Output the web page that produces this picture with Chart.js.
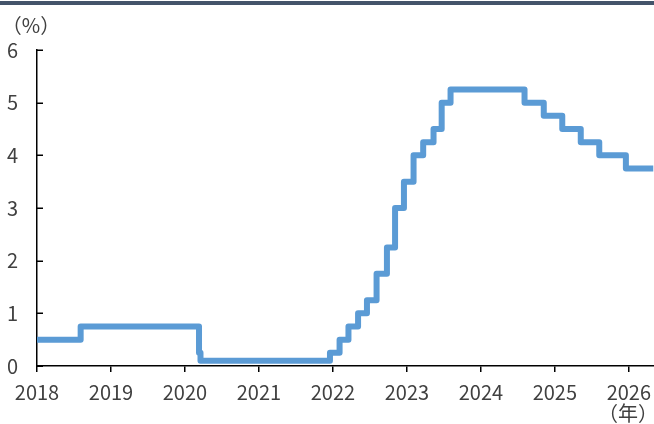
<!DOCTYPE html>
<html>
<head>
<meta charset="utf-8">
<script src="https://cdn.jsdelivr.net/npm/chart.js@4.4.1/dist/chart.umd.min.js"></script>
<style>
  html, body { margin: 0; padding: 0; background: #fff; }
  #wrap { position: relative; width: 654px; height: 424px; }
</style>
</head>
<body>
<div id="wrap"><canvas id="c"></canvas></div>
<script>
// Policy rate change dates (decimal years) and levels (%)
const changeDates = [2018.00, 2018.59, 2020.19, 2020.21, 2021.96, 2022.09, 2022.21, 2022.34, 2022.46,
  2022.59, 2022.73, 2022.84, 2022.96, 2023.09, 2023.22, 2023.36, 2023.47, 2023.59,
  2024.59, 2024.85, 2025.10, 2025.35, 2025.60, 2025.96, 2026.33];
const rates = [0.5, 0.75, 0.25, 0.1, 0.25, 0.5, 0.75, 1.0, 1.25,
  1.75, 2.25, 3.0, 3.5, 4.0, 4.25, 4.5, 5.0, 5.25,
  5.0, 4.75, 4.5, 4.25, 4.0, 3.75, 3.75];
const yearTicks = [2018, 2019, 2020, 2021, 2022, 2023, 2024, 2025, 2026];
const yTickValues = [0, 1, 2, 3, 4, 5, 6];
const yUnitLabel = '（%）';
const xUnitLabel = '（年）';

const FONT = '"Noto Sans CJK JP", "Noto Sans", sans-serif';
const TEXT = '#404040';

const points = changeDates.map((d, i) => ({ x: d, y: rates[i] }));

const extras = {
  id: 'extras',
  afterDraw(chart) {
    const ctx = chart.ctx;
    const y = chart.scales.y, x = chart.scales.x;
    ctx.save();
    // top rule
    ctx.fillStyle = '#44546A';
    ctx.fillRect(0, 1, chart.width, 4);
    // inward y ticks
    ctx.strokeStyle = '#000';
    ctx.lineWidth = 1.5;
    yTickValues.forEach(v => {
      const py = Math.round(y.getPixelForValue(v)) + 0.25;
      ctx.beginPath();
      ctx.moveTo(x.left, py);
      ctx.lineTo(x.left + 6, py);
      ctx.stroke();
    });
    // unit labels
    ctx.fillStyle = TEXT;
    ctx.font = '20px ' + FONT;
    ctx.textAlign = 'center';
    ctx.textBaseline = 'middle';
    ctx.fillText(yUnitLabel, 31, 25);
    ctx.fillText(xUnitLabel, 628, 413);
    ctx.restore();
  }
};

new Chart(document.getElementById('c'), {
  type: 'line',
  data: {
    datasets: [{
      data: points,
      stepped: 'before',
      borderColor: '#5B9BD5',
      borderWidth: 6,
      borderJoinStyle: 'round',
      pointRadius: 0,
      fill: false
    }]
  },
  options: {
    responsive: true,
    maintainAspectRatio: false,
    animation: false,
    layout: { padding: { top: 50, right: 0, left: 0, bottom: 0 } },
    plugins: { legend: { display: false }, tooltip: { enabled: false } },
    scales: {
      x: {
        type: 'linear',
        min: 2018,
        max: 2026.34,
        afterBuildTicks(scale) { scale.ticks = yearTicks.map(v => ({ value: v })); },
        afterFit(scale) {
          scale.height = 58;
          scale.paddingLeft = 0;
          scale.paddingRight = 0;
        },
        ticks: {
          callback: v => String(v),
          color: TEXT,
          font: { family: FONT, size: 20 },
          padding: 8,
          maxRotation: 0,
          autoSkip: false
        },
        grid: { drawOnChartArea: false, drawTicks: true, tickLength: 6, color: '#000', lineWidth: 1.5 },
        border: { display: true, color: '#000', width: 1.5 }
      },
      y: {
        min: 0,
        max: 6,
        afterBuildTicks(scale) { scale.ticks = yTickValues.map(v => ({ value: v })); },
        afterFit(scale) { scale.width = 37; scale.paddingTop = 0; scale.paddingBottom = 0; },
        ticks: {
          color: TEXT,
          font: { family: FONT, size: 20 },
          padding: 19
        },
        grid: { display: false, drawTicks: false },
        border: { display: true, color: '#000', width: 1.5 }
      }
    }
  },
  plugins: [extras]
});
</script>
</body>
</html>
